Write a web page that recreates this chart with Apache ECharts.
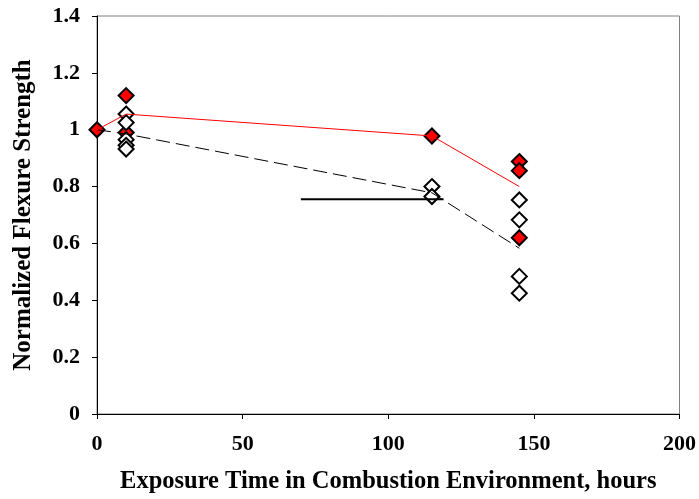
<!DOCTYPE html>
<html>
<head>
<meta charset="utf-8">
<script src="https://cdn.jsdelivr.net/npm/echarts@6/dist/echarts.min.js"></script>
<style>
html, body { margin: 0; padding: 0; background: #fff; }
#chart { width: 699px; height: 499px; }
</style>
</head>
<body>
<div id="chart"></div>
<script>
// 数据：暴露时间(小时)与归一化弯曲强度
var redPoints = [[0, 1.0], [10, 1.12], [10, 0.99], [115, 0.978], [145, 0.888], [145, 0.856], [145, 0.62]];
var openPoints = [[10, 1.055], [10, 1.025], [10, 0.965], [10, 0.945], [10, 0.932], [115, 0.80], [115, 0.765],
                  [145, 0.753], [145, 0.683], [145, 0.484], [145, 0.425]];
var redLine = [[0, 1.0], [10, 1.055], [115, 0.978], [145, 0.80]];
var dashLine = [[0, 1.0], [10, 0.985], [115, 0.778], [145, 0.583]];
var solidLine = [[70, 0.755], [119, 0.755]];

var xTitle = 'Exposure Time in Combustion Environment, hours';
var yTitle = 'Normalized Flexure Strength';

var myChart = echarts.init(document.getElementById('chart'));
var font = 'Liberation Serif';

var option = {
    animation: false,
    grid: {
        left: 97, right: 18, top: 16, bottom: 85,
        show: true,
        borderColor: '#808080',
        borderWidth: 1
    },
    xAxis: {
        type: 'value',
        min: 0, max: 200, interval: 50,
        name: xTitle,
        nameLocation: 'middle',
        nameGap: 55,
        nameMoveOverlap: false,
        nameTextStyle: { fontFamily: font, fontWeight: 'bold', fontSize: 24.5, color: '#000' },
        axisLine: { onZero: false, lineStyle: { color: '#000', width: 1 } },
        axisTick: { show: true, length: 5, lineStyle: { color: '#000' } },
        axisLabel: { fontFamily: font, fontWeight: 'bold', fontSize: 22, color: '#000', margin: 19 },
        splitLine: { show: false }
    },
    yAxis: {
        type: 'value',
        min: 0, max: 1.4, interval: 0.2,
        name: yTitle,
        nameLocation: 'middle',
        nameGap: 61,
        nameMoveOverlap: false,
        nameRotate: 90,
        nameTextStyle: { fontFamily: font, fontWeight: 'bold', fontSize: 25, color: '#000' },
        axisLine: { show: true, onZero: false, lineStyle: { color: '#000', width: 1 } },
        axisTick: { show: true, length: 5, lineStyle: { color: '#000' } },
        axisLabel: { fontFamily: font, fontWeight: 'bold', fontSize: 22, color: '#000', margin: 17 },
        splitLine: { show: false }
    },
    series: [
        {
            type: 'line', data: dashLine, symbol: 'none', silent: true,
            lineStyle: { color: '#000', width: 1, type: [14, 6] }
        },
        {
            type: 'line', data: solidLine, symbol: 'none', silent: true,
            lineStyle: { color: '#000', width: 2 }
        },
        {
            type: 'line', data: redLine, symbol: 'none', silent: true,
            lineStyle: { color: '#ff0000', width: 1 }
        },
        {
            type: 'scatter', data: redPoints, symbol: 'diamond', symbolSize: 15,
            itemStyle: { color: '#ff0000', borderColor: '#000', borderWidth: 2, opacity: 1 }
        },
        {
            type: 'scatter', data: openPoints, symbol: 'diamond', symbolSize: 15,
            itemStyle: { color: '#fff', borderColor: '#000', borderWidth: 2, opacity: 1 }
        }
    ]
};
myChart.setOption(option);
</script>
</body>
</html>
